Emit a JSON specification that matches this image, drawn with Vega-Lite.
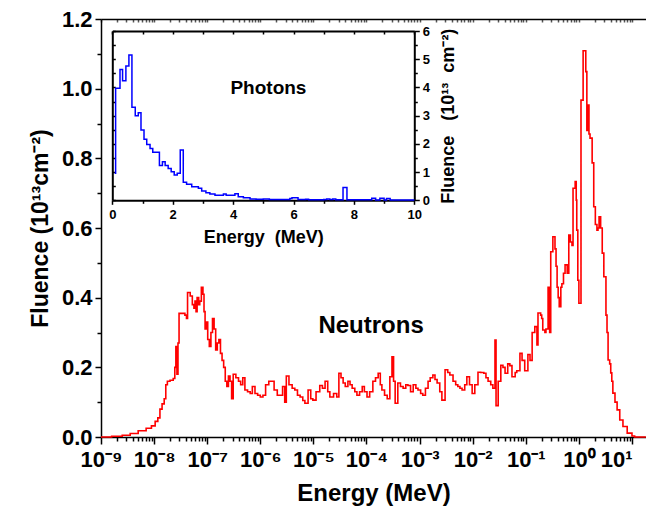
{
  "$schema": "https://vega.github.io/schema/vega-lite/v6.json",
  "autosize": {"type": "none"},
  "padding": {"left": 101, "top": 19, "right": 0, "bottom": 73},
  "width": 545,
  "height": 418,
  "background": "white",
  "datasets": {
    "neutrons": [
      {"e": 1e-9, "f": 0.0}, {"e": 1.585e-9, "f": 0.002}, {"e": 2.512e-9, "f": 0.005}, {"e": 3.548e-9, "f": 0.01},
      {"e": 5.012e-9, "f": 0.018}, {"e": 7.079e-9, "f": 0.025}, {"e": 8.913e-9, "f": 0.032}, {"e": 1.047e-8, "f": 0.045},
      {"e": 1.175e-8, "f": 0.055}, {"e": 1.288e-8, "f": 0.08}, {"e": 1.413e-8, "f": 0.095}, {"e": 1.549e-8, "f": 0.11},
      {"e": 1.66e-8, "f": 0.15}, {"e": 1.778e-8, "f": 0.16}, {"e": 1.995e-8, "f": 0.163}, {"e": 2.291e-8, "f": 0.168},
      {"e": 2.455e-8, "f": 0.2}, {"e": 2.57e-8, "f": 0.26}, {"e": 2.692e-8, "f": 0.18}, {"e": 2.818e-8, "f": 0.27},
      {"e": 2.951e-8, "f": 0.355}, {"e": 3.467e-8, "f": 0.355}, {"e": 3.802e-8, "f": 0.35}, {"e": 4.074e-8, "f": 0.34},
      {"e": 4.266e-8, "f": 0.415}, {"e": 4.786e-8, "f": 0.405}, {"e": 5.248e-8, "f": 0.38}, {"e": 5.623e-8, "f": 0.37},
      {"e": 5.888e-8, "f": 0.39}, {"e": 6.166e-8, "f": 0.36}, {"e": 6.457e-8, "f": 0.4}, {"e": 6.918e-8, "f": 0.38},
      {"e": 7.244e-8, "f": 0.39}, {"e": 7.762e-8, "f": 0.43}, {"e": 8.318e-8, "f": 0.41}, {"e": 8.71e-8, "f": 0.36},
      {"e": 9.12e-8, "f": 0.31}, {"e": 9.55e-8, "f": 0.33}, {"e": 1.023e-7, "f": 0.28}, {"e": 1.096e-7, "f": 0.26},
      {"e": 1.175e-7, "f": 0.3}, {"e": 1.259e-7, "f": 0.34}, {"e": 1.349e-7, "f": 0.31}, {"e": 1.445e-7, "f": 0.25},
      {"e": 1.549e-7, "f": 0.27}, {"e": 1.66e-7, "f": 0.28}, {"e": 1.778e-7, "f": 0.24}, {"e": 1.905e-7, "f": 0.22},
      {"e": 2.042e-7, "f": 0.2}, {"e": 2.188e-7, "f": 0.16}, {"e": 2.344e-7, "f": 0.145}, {"e": 2.512e-7, "f": 0.175},
      {"e": 2.692e-7, "f": 0.16}, {"e": 2.884e-7, "f": 0.11}, {"e": 3.09e-7, "f": 0.18}, {"e": 3.467e-7, "f": 0.17},
      {"e": 3.89e-7, "f": 0.16}, {"e": 4.266e-7, "f": 0.15}, {"e": 4.677e-7, "f": 0.17}, {"e": 5.129e-7, "f": 0.135},
      {"e": 5.754e-7, "f": 0.13}, {"e": 6.457e-7, "f": 0.125}, {"e": 7.079e-7, "f": 0.145}, {"e": 7.943e-7, "f": 0.125},
      {"e": 8.913e-7, "f": 0.12}, {"e": 1e-6, "f": 0.115}, {"e": 1.122e-6, "f": 0.12}, {"e": 1.259e-6, "f": 0.15},
      {"e": 1.445e-6, "f": 0.16}, {"e": 1.622e-6, "f": 0.16}, {"e": 1.82e-6, "f": 0.135}, {"e": 2.089e-6, "f": 0.12},
      {"e": 2.344e-6, "f": 0.12}, {"e": 2.63e-6, "f": 0.145}, {"e": 2.884e-6, "f": 0.1}, {"e": 3.09e-6, "f": 0.175},
      {"e": 3.467e-6, "f": 0.15}, {"e": 3.981e-6, "f": 0.14}, {"e": 4.467e-6, "f": 0.135}, {"e": 5.012e-6, "f": 0.12},
      {"e": 5.623e-6, "f": 0.115}, {"e": 6.31e-6, "f": 0.105}, {"e": 6.918e-6, "f": 0.097}, {"e": 7.943e-6, "f": 0.135},
      {"e": 8.913e-6, "f": 0.11}, {"e": 9.772e-6, "f": 0.106}, {"e": 1.122e-5, "f": 0.13}, {"e": 1.318e-5, "f": 0.148},
      {"e": 1.479e-5, "f": 0.14}, {"e": 1.66e-5, "f": 0.16}, {"e": 1.862e-5, "f": 0.13}, {"e": 2.042e-5, "f": 0.115},
      {"e": 2.399e-5, "f": 0.125}, {"e": 2.754e-5, "f": 0.115}, {"e": 3.02e-5, "f": 0.183}, {"e": 3.311e-5, "f": 0.17},
      {"e": 3.631e-5, "f": 0.155}, {"e": 3.981e-5, "f": 0.145}, {"e": 4.467e-5, "f": 0.16}, {"e": 4.898e-5, "f": 0.15},
      {"e": 5.37e-5, "f": 0.14}, {"e": 6.026e-5, "f": 0.13}, {"e": 6.607e-5, "f": 0.12}, {"e": 7.413e-5, "f": 0.13},
      {"e": 8.318e-5, "f": 0.145}, {"e": 9.12e-5, "f": 0.13}, {"e": 1.023e-4, "f": 0.115}, {"e": 1.148e-4, "f": 0.13},
      {"e": 1.318e-4, "f": 0.16}, {"e": 1.479e-4, "f": 0.17}, {"e": 1.66e-4, "f": 0.183}, {"e": 1.82e-4, "f": 0.15},
      {"e": 1.95e-4, "f": 0.135}, {"e": 2.188e-4, "f": 0.12}, {"e": 2.455e-4, "f": 0.11}, {"e": 2.754e-4, "f": 0.173},
      {"e": 3.02e-4, "f": 0.23}, {"e": 3.236e-4, "f": 0.16}, {"e": 3.467e-4, "f": 0.097}, {"e": 3.89e-4, "f": 0.155},
      {"e": 4.365e-4, "f": 0.145}, {"e": 4.898e-4, "f": 0.14}, {"e": 5.495e-4, "f": 0.15}, {"e": 6.026e-4, "f": 0.148},
      {"e": 6.761e-4, "f": 0.13}, {"e": 7.586e-4, "f": 0.15}, {"e": 8.511e-4, "f": 0.14}, {"e": 9.333e-4, "f": 0.135},
      {"e": 1.047e-3, "f": 0.125}, {"e": 1.148e-3, "f": 0.12}, {"e": 1.288e-3, "f": 0.14}, {"e": 1.445e-3, "f": 0.16},
      {"e": 1.585e-3, "f": 0.17}, {"e": 1.778e-3, "f": 0.178}, {"e": 1.95e-3, "f": 0.165}, {"e": 2.138e-3, "f": 0.155},
      {"e": 2.399e-3, "f": 0.13}, {"e": 2.63e-3, "f": 0.106}, {"e": 3.02e-3, "f": 0.193}, {"e": 3.388e-3, "f": 0.185},
      {"e": 3.715e-3, "f": 0.178}, {"e": 4.266e-3, "f": 0.16}, {"e": 4.786e-3, "f": 0.15}, {"e": 5.248e-3, "f": 0.145},
      {"e": 5.754e-3, "f": 0.14}, {"e": 6.31e-3, "f": 0.135}, {"e": 7.079e-3, "f": 0.15}, {"e": 7.762e-3, "f": 0.173},
      {"e": 8.71e-3, "f": 0.15}, {"e": 9.772e-3, "f": 0.125}, {"e": 1.096e-2, "f": 0.15}, {"e": 1.259e-2, "f": 0.186},
      {"e": 1.413e-2, "f": 0.185}, {"e": 1.622e-2, "f": 0.183}, {"e": 1.778e-2, "f": 0.17}, {"e": 1.95e-2, "f": 0.16},
      {"e": 2.188e-2, "f": 0.15}, {"e": 2.399e-2, "f": 0.14}, {"e": 2.63e-2, "f": 0.278}, {"e": 2.754e-2, "f": 0.09},
      {"e": 3.02e-2, "f": 0.16}, {"e": 3.388e-2, "f": 0.206}, {"e": 3.715e-2, "f": 0.2}, {"e": 4.074e-2, "f": 0.183},
      {"e": 4.571e-2, "f": 0.21}, {"e": 5.012e-2, "f": 0.205}, {"e": 5.495e-2, "f": 0.173}, {"e": 6.31e-2, "f": 0.185},
      {"e": 6.761e-2, "f": 0.19}, {"e": 7.762e-2, "f": 0.24}, {"e": 8.511e-2, "f": 0.22}, {"e": 9.55e-2, "f": 0.19},
      {"e": 0.1096, "f": 0.237}, {"e": 0.1202, "f": 0.22}, {"e": 0.1318, "f": 0.3}, {"e": 0.1479, "f": 0.317},
      {"e": 0.1622, "f": 0.264}, {"e": 0.1698, "f": 0.356}, {"e": 0.1905, "f": 0.35}, {"e": 0.1995, "f": 0.34},
      {"e": 0.2089, "f": 0.307}, {"e": 0.2291, "f": 0.3}, {"e": 0.2399, "f": 0.31}, {"e": 0.263, "f": 0.43},
      {"e": 0.2818, "f": 0.3}, {"e": 0.2951, "f": 0.532}, {"e": 0.3236, "f": 0.575}, {"e": 0.3548, "f": 0.54},
      {"e": 0.3715, "f": 0.49}, {"e": 0.389, "f": 0.43}, {"e": 0.4074, "f": 0.4}, {"e": 0.4266, "f": 0.374},
      {"e": 0.4571, "f": 0.43}, {"e": 0.4786, "f": 0.44}, {"e": 0.5129, "f": 0.47}, {"e": 0.5495, "f": 0.494},
      {"e": 0.6026, "f": 0.47}, {"e": 0.6457, "f": 0.58}, {"e": 0.6918, "f": 0.56}, {"e": 0.7413, "f": 0.55},
      {"e": 0.7762, "f": 0.714}, {"e": 0.8511, "f": 0.733}, {"e": 0.8913, "f": 0.68}, {"e": 0.912, "f": 0.594},
      {"e": 0.955, "f": 0.45}, {"e": 1.0, "f": 0.384}, {"e": 1.096, "f": 0.967}, {"e": 1.202, "f": 1.109},
      {"e": 1.349, "f": 1.049}, {"e": 1.413, "f": 0.88}, {"e": 1.479, "f": 0.953}, {"e": 1.549, "f": 0.87},
      {"e": 1.622, "f": 0.858}, {"e": 1.778, "f": 0.787}, {"e": 1.905, "f": 0.661}, {"e": 2.042, "f": 0.61},
      {"e": 2.188, "f": 0.594}, {"e": 2.291, "f": 0.6}, {"e": 2.399, "f": 0.632}, {"e": 2.57, "f": 0.6},
      {"e": 2.754, "f": 0.528}, {"e": 2.951, "f": 0.46}, {"e": 3.236, "f": 0.35}, {"e": 3.388, "f": 0.3},
      {"e": 3.548, "f": 0.221}, {"e": 3.802, "f": 0.21}, {"e": 3.981, "f": 0.184}, {"e": 4.169, "f": 0.16},
      {"e": 4.365, "f": 0.126}, {"e": 4.786, "f": 0.1}, {"e": 5.248, "f": 0.078}, {"e": 5.888, "f": 0.049},
      {"e": 6.761, "f": 0.03}, {"e": 8.128, "f": 0.011}, {"e": 10.0, "f": 0.003}, {"e": 11.22, "f": 0.0},
      {"e": 18.3, "f": 0.0}
    ],
    "photons": [
      {"e": 0.08, "f": 0.96}, {"e": 0.11, "f": 3.97}, {"e": 0.255, "f": 4.64}, {"e": 0.34, "f": 4.24},
      {"e": 0.45, "f": 4.76}, {"e": 0.55, "f": 5.15}, {"e": 0.65, "f": 3.3}, {"e": 0.76, "f": 3.0},
      {"e": 0.86, "f": 3.1}, {"e": 0.95, "f": 2.49}, {"e": 1.05, "f": 2.16}, {"e": 1.14, "f": 1.98},
      {"e": 1.25, "f": 1.84}, {"e": 1.34, "f": 1.7}, {"e": 1.56, "f": 1.23}, {"e": 1.66, "f": 1.37},
      {"e": 1.75, "f": 1.23}, {"e": 1.85, "f": 1.13}, {"e": 1.95, "f": 1.01}, {"e": 2.05, "f": 0.9},
      {"e": 2.15, "f": 0.96}, {"e": 2.25, "f": 1.78}, {"e": 2.35, "f": 0.64}, {"e": 2.46, "f": 0.57},
      {"e": 2.63, "f": 0.48}, {"e": 2.85, "f": 0.43}, {"e": 2.96, "f": 0.33}, {"e": 3.1, "f": 0.27},
      {"e": 3.23, "f": 0.22}, {"e": 3.4, "f": 0.18}, {"e": 3.68, "f": 0.22}, {"e": 3.77, "f": 0.18},
      {"e": 4.06, "f": 0.23}, {"e": 4.17, "f": 0.13}, {"e": 4.34, "f": 0.09}, {"e": 4.56, "f": 0.05},
      {"e": 4.76, "f": 0.04}, {"e": 5.0, "f": 0.05}, {"e": 5.2, "f": 0.03}, {"e": 5.88, "f": 0.06},
      {"e": 5.95, "f": 0.09}, {"e": 6.15, "f": 0.03}, {"e": 6.4, "f": 0.04}, {"e": 6.5, "f": 0.02},
      {"e": 7.0, "f": 0.03}, {"e": 7.1, "f": 0.05}, {"e": 7.2, "f": 0.03}, {"e": 7.3, "f": 0.05},
      {"e": 7.4, "f": 0.02}, {"e": 7.64, "f": 0.45}, {"e": 7.77, "f": 0.02}, {"e": 8.59, "f": 0.07},
      {"e": 8.72, "f": 0.01}, {"e": 8.86, "f": 0.07}, {"e": 9.0, "f": 0.01}, {"e": 9.08, "f": 0.06},
      {"e": 9.2, "f": 0.01}, {"e": 10.0, "f": 0.01}
    ],
    "neutronLabel": [{"label": "Neutrons", "e": 1.22e-4, "f": 0.299}],
    "photonLabel": [{"label": "Photons", "e": 5.17, "f": 3.77}]
  },
  "resolve": {"scale": {"x": "independent", "y": "independent"}, "axis": {"x": "independent", "y": "independent"}},
  "layer": [
    {
      "data": {"name": "neutrons"},
      "mark": {"type": "line", "interpolate": "step-after", "color": "#ff0000", "strokeWidth": 1.6},
      "encoding": {
        "x": {"field": "e", "type": "quantitative", "scale": {"type": "log", "domain": [1e-9, 18.37]},
          "axis": {"orient": "bottom", "values": [1e-9, 1e-8, 1e-7, 1e-6, 1e-5, 1e-4, 1e-3, 1e-2, 1e-1, 1, 10],
            "labelExpr": "['10⁻⁹','10⁻⁸','10⁻⁷','10⁻⁶','10⁻⁵','10⁻⁴','10⁻³','10⁻²','10⁻¹','10⁰','10¹'][round(log(datum.value)/LN10)+9]",
            "labelAlign": {"expr": "datum.value > 5 ? 'right' : 'center'"},
            "labelDx": {"expr": "datum.value > 5 ? 9 : 0"},
            "tickSize": 7, "labelFontSize": 22, "labelPadding": 5, "title": "Energy (MeV)", "titleFontSize": 24, "titlePadding": 11}},
        "y": {"field": "f", "type": "quantitative", "scale": {"domain": [0, 1.2]},
          "axis": {"orient": "left", "values": [0, 0.2, 0.4, 0.6, 0.8, 1.0, 1.2], "format": ".1f", "tickSize": 6,
            "labelFontSize": 22, "labelPadding": 3, "title": "Fluence (10¹³cm⁻²)", "titleFontSize": 23, "titlePadding": 9}}
      }
    },
    {
      "data": {"name": "neutrons"},
      "mark": {"type": "line", "strokeOpacity": 0},
      "encoding": {
        "x": {"field": "e", "type": "quantitative", "scale": {"type": "log", "domain": [1e-9, 18.37]},
          "axis": {"orient": "bottom", "domain": false, "labels": false, "title": null, "tickSize": 4,
            "values": [2e-9,3e-9,4e-9,5e-9,6e-9,7e-9,8e-9,9e-9,2e-8,3e-8,4e-8,5e-8,6e-8,7e-8,8e-8,9e-8,2e-7,3e-7,4e-7,5e-7,6e-7,7e-7,8e-7,9e-7,2e-6,3e-6,4e-6,5e-6,6e-6,7e-6,8e-6,9e-6,2e-5,3e-5,4e-5,5e-5,6e-5,7e-5,8e-5,9e-5,2e-4,3e-4,4e-4,5e-4,6e-4,7e-4,8e-4,9e-4,0.002,0.003,0.004,0.005,0.006,0.007,0.008,0.009,0.02,0.03,0.04,0.05,0.06,0.07,0.08,0.09,0.2,0.3,0.4,0.5,0.6,0.7,0.8,0.9,2,3,4,5,6,7,8,9]}},
        "y": {"field": "f", "type": "quantitative", "scale": {"domain": [0, 1.2]},
          "axis": {"orient": "left", "domain": false, "labels": false, "title": null, "tickSize": 4, "values": [0.1, 0.3, 0.5, 0.7, 0.9, 1.1]}}
      }
    },
    {
      "data": {"name": "neutrons"},
      "mark": {"type": "line", "strokeOpacity": 0},
      "encoding": {
        "x": {"field": "e", "type": "quantitative", "scale": {"type": "log", "domain": [1e-9, 18.37]},
          "axis": {"orient": "top", "labels": false, "title": null, "tickSize": -3, "tickColor": "#555",
            "values": [1e-9,2e-9,3e-9,4e-9,5e-9,6e-9,7e-9,8e-9,9e-9,1e-8,2e-8,3e-8,4e-8,5e-8,6e-8,7e-8,8e-8,9e-8,1e-7,2e-7,3e-7,4e-7,5e-7,6e-7,7e-7,8e-7,9e-7,1e-6,2e-6,3e-6,4e-6,5e-6,6e-6,7e-6,8e-6,9e-6,1e-5,2e-5,3e-5,4e-5,5e-5,6e-5,7e-5,8e-5,9e-5,1e-4,2e-4,3e-4,4e-4,5e-4,6e-4,7e-4,8e-4,9e-4,0.001,0.002,0.003,0.004,0.005,0.006,0.007,0.008,0.009,0.01,0.02,0.03,0.04,0.05,0.06,0.07,0.08,0.09,0.1,0.2,0.3,0.4,0.5,0.6,0.7,0.8,0.9,1,2,3,4,5,6,7,8,9,10]}},
        "y": {"field": "f", "type": "quantitative", "scale": {"domain": [0, 1.2]}, "axis": null}
      }
    },
    {
      "data": {"name": "neutronLabel"},
      "mark": {"type": "text", "fontSize": 24, "fontWeight": "bold", "font": "Liberation Sans", "color": "#000", "align": "center", "baseline": "alphabetic"},
      "encoding": {
        "x": {"field": "e", "type": "quantitative", "scale": {"type": "log", "domain": [1e-9, 18.37]}, "axis": null},
        "y": {"field": "f", "type": "quantitative", "scale": {"domain": [0, 1.2]}, "axis": null},
        "text": {"field": "label"}
      }
    },
    {
      "data": {"name": "photons"},
      "mark": {"type": "line", "interpolate": "step-after", "color": "#0000ff", "strokeWidth": 1.5},
      "encoding": {
        "x": {"field": "e", "type": "quantitative", "scale": {"domain": [0, 10], "range": [11.3, 313.3]},
          "axis": {"orient": "bottom", "offset": -236.7, "values": [0, 2, 4, 6, 8, 10], "tickSize": 4, "domainWidth": 2,
            "labelFontSize": 13, "labelPadding": 4, "title": "Energy\u00a0\u00a0(MeV)", "titleFontSize": 18, "titlePadding": 7}},
        "y": {"field": "f", "type": "quantitative", "scale": {"domain": [0, 6], "range": [181.3, 12]},
          "axis": {"orient": "right", "offset": -231.7, "values": [0, 1, 2, 3, 4, 5, 6], "tickSize": 5, "domainWidth": 2,
            "labelFontSize": 13, "labelPadding": 3, "title": "Fluence\u00a0\u00a0\u00a0(10¹³\u00a0\u00a0cm⁻²)", "titleFontSize": 18,
            "titleAngle": 270, "titleBaseline": "top", "titlePadding": 10}}
      }
    },
    {
      "data": {"name": "photons"},
      "mark": {"type": "line", "strokeOpacity": 0},
      "encoding": {
        "x": {"field": "e", "type": "quantitative", "scale": {"domain": [0, 10], "range": [11.3, 313.3]},
          "axis": {"orient": "bottom", "offset": -236.7, "domain": false, "labels": false, "title": null, "tickSize": 3, "values": [1, 3, 5, 7, 9]}},
        "y": {"field": "f", "type": "quantitative", "scale": {"domain": [0, 6], "range": [181.3, 12]},
          "axis": {"orient": "right", "offset": -231.7, "domain": false, "labels": false, "title": null, "tickSize": 3, "values": [0.5, 1.5, 2.5, 3.5, 4.5, 5.5]}}
      }
    },
    {
      "data": {"name": "photons"},
      "mark": {"type": "line", "strokeOpacity": 0},
      "encoding": {
        "x": {"field": "e", "type": "quantitative", "scale": {"domain": [0, 10], "range": [11.3, 313.3]},
          "axis": {"orient": "top", "offset": -12, "domainWidth": 2, "labels": false, "title": null, "tickSize": -3, "values": [0, 1, 2, 3, 4, 5, 6, 7, 8, 9, 10]}},
        "y": {"field": "f", "type": "quantitative", "scale": {"domain": [0, 6], "range": [181.3, 12]},
          "axis": {"orient": "left", "offset": -11.3, "domainWidth": 2, "labels": false, "title": null, "tickSize": -3, "values": [0, 0.5, 1, 1.5, 2, 2.5, 3, 3.5, 4, 4.5, 5, 5.5, 6]}}
      }
    },
    {
      "data": {"name": "photonLabel"},
      "mark": {"type": "text", "fontSize": 19, "fontWeight": "bold", "font": "Liberation Sans", "color": "#000", "align": "center", "baseline": "alphabetic"},
      "encoding": {
        "x": {"field": "e", "type": "quantitative", "scale": {"domain": [0, 10], "range": [11.3, 313.3]}, "axis": null},
        "y": {"field": "f", "type": "quantitative", "scale": {"domain": [0, 6], "range": [181.3, 12]}, "axis": null},
        "text": {"field": "label"}
      }
    }
  ],
  "config": {
    "view": {"stroke": null},
    "font": "Liberation Sans",
    "axis": {
      "grid": false, "labelFont": "Liberation Sans", "titleFont": "Liberation Sans",
      "labelFontWeight": "bold", "titleFontWeight": "bold", "labelColor": "#000", "titleColor": "#000",
      "domainColor": "#000", "tickColor": "#000", "labelFlush": false, "labelOverlap": false,
      "domainWidth": 1.5, "tickWidth": 1.5, "zindex": 1
    }
  }
}
